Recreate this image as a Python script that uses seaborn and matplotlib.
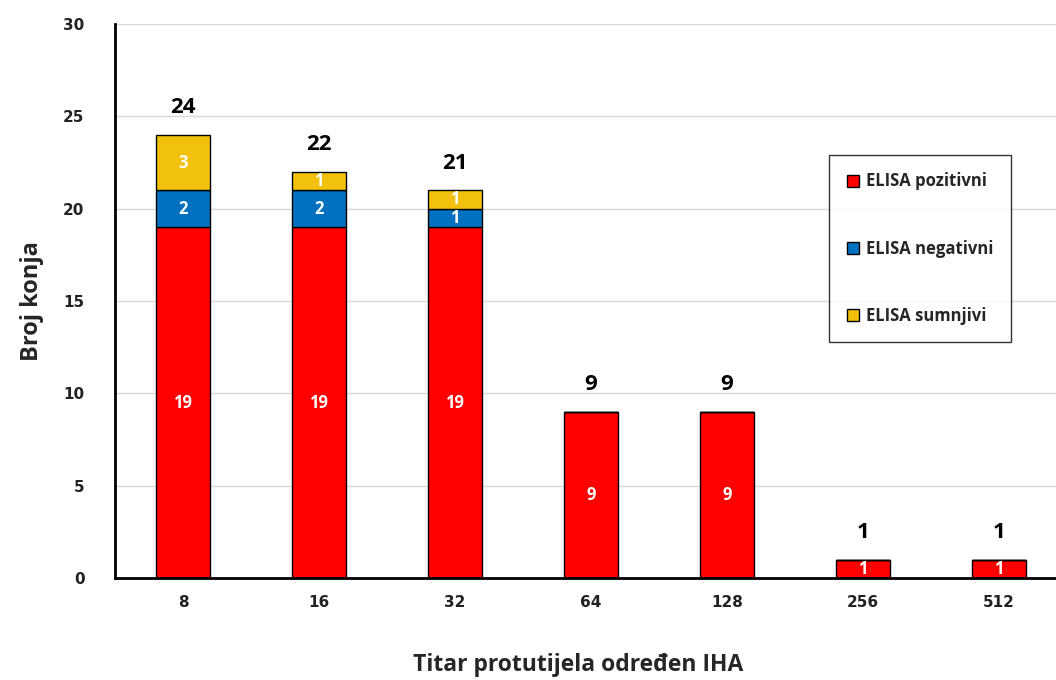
import matplotlib
matplotlib.use("Agg")
import matplotlib.pyplot as plt
import numpy as np
import pandas as pd
import seaborn as sns
from matplotlib.patches import Patch

titers = ["8", "16", "32", "64", "128", "256", "512"]
positive = [19, 19, 19, 9, 9, 1, 1]
negative = [2, 2, 1, 0, 0, 0, 0]
suspect = [3, 1, 1, 0, 0, 0, 0]
series_names = ["ELISA pozitivni", "ELISA negativni", "ELISA sumnjivi"]
colors = ["#FF0000", "#0070C0", "#F2C10E"]

sns.set_theme(style="white")
plt.rcParams["font.family"] = ["Open Sans", "DejaVu Sans"]

fig = plt.figure(figsize=(10.56, 6.8), dpi=100)
ax = fig.add_axes([115 / 1056, 1 - 578 / 680, 952 / 1056, 554 / 680])

pos = np.array(positive)
neg = np.array(negative)
sus = np.array(suspect)
bottoms = [np.zeros(len(titers)), pos, pos + neg]
values = [pos, neg, sus]

for vals, bottom, color in zip(values, bottoms, colors):
    df = pd.DataFrame({"titar": titers, "n": vals})
    sns.barplot(data=df, x="titar", y="n", bottom=bottom, color=color,
                edgecolor="black", linewidth=1, width=0.4, ax=ax,
                saturation=1)

# segment labels + totals
for i in range(len(titers)):
    for vals, bottom in zip(values, bottoms):
        if vals[i] > 0:
            ax.text(i, bottom[i] + vals[i] / 2, str(vals[i]), ha="center",
                    va="center", color="white", fontsize=12, fontweight="bold")
    total = pos[i] + neg[i] + sus[i]
    ax.text(i, total + 0.9, str(total), ha="center", va="bottom",
            color="black", fontsize=16, fontweight="bold")

ax.set_ylim(0, 30)
ax.set_xlim(-0.5, 6.5)
ax.set_yticks(range(0, 31, 5))
ax.yaxis.grid(True, color="#D9D9D9", linewidth=1)
ax.set_axisbelow(True)
for side in ["top", "right"]:
    ax.spines[side].set_visible(False)
ax.spines["left"].set_color("black")
ax.spines["left"].set_linewidth(2)
ax.spines["bottom"].set_color("black")
ax.spines["bottom"].set_linewidth(2)
ax.tick_params(axis="both", length=0, pad=12)
for lab in ax.get_xticklabels() + ax.get_yticklabels():
    lab.set_fontfamily("DejaVu Sans")
    lab.set_fontweight("bold")
    lab.set_fontsize(11)
    lab.set_color("#222222")
ax.tick_params(axis="y", pad=22)

ax.set_xlabel("Titar protutijela određen IHA", fontsize=16.5, fontweight="bold")
ax.xaxis.set_label_coords((578 - 115) / 952, -0.135)
ax.set_ylabel("Broj konja", fontsize=17, fontweight="bold", labelpad=14)

handles = [Patch(facecolor=c, edgecolor="black", label=n)
           for c, n in zip(colors, series_names)]
leg = ax.legend(handles=handles, loc="upper left",
                bbox_to_anchor=(714 / 952, 1 - 131 / 554), frameon=True,
                fancybox=False, edgecolor="black", labelspacing=2.95,
                handlelength=0.75, handleheight=0.75, handletextpad=0.45,
                borderpad=1.05, borderaxespad=0,
                prop={"weight": "bold", "size": 12})
leg.get_frame().set_linewidth(1)

fig.savefig("out.png", dpi=100)
